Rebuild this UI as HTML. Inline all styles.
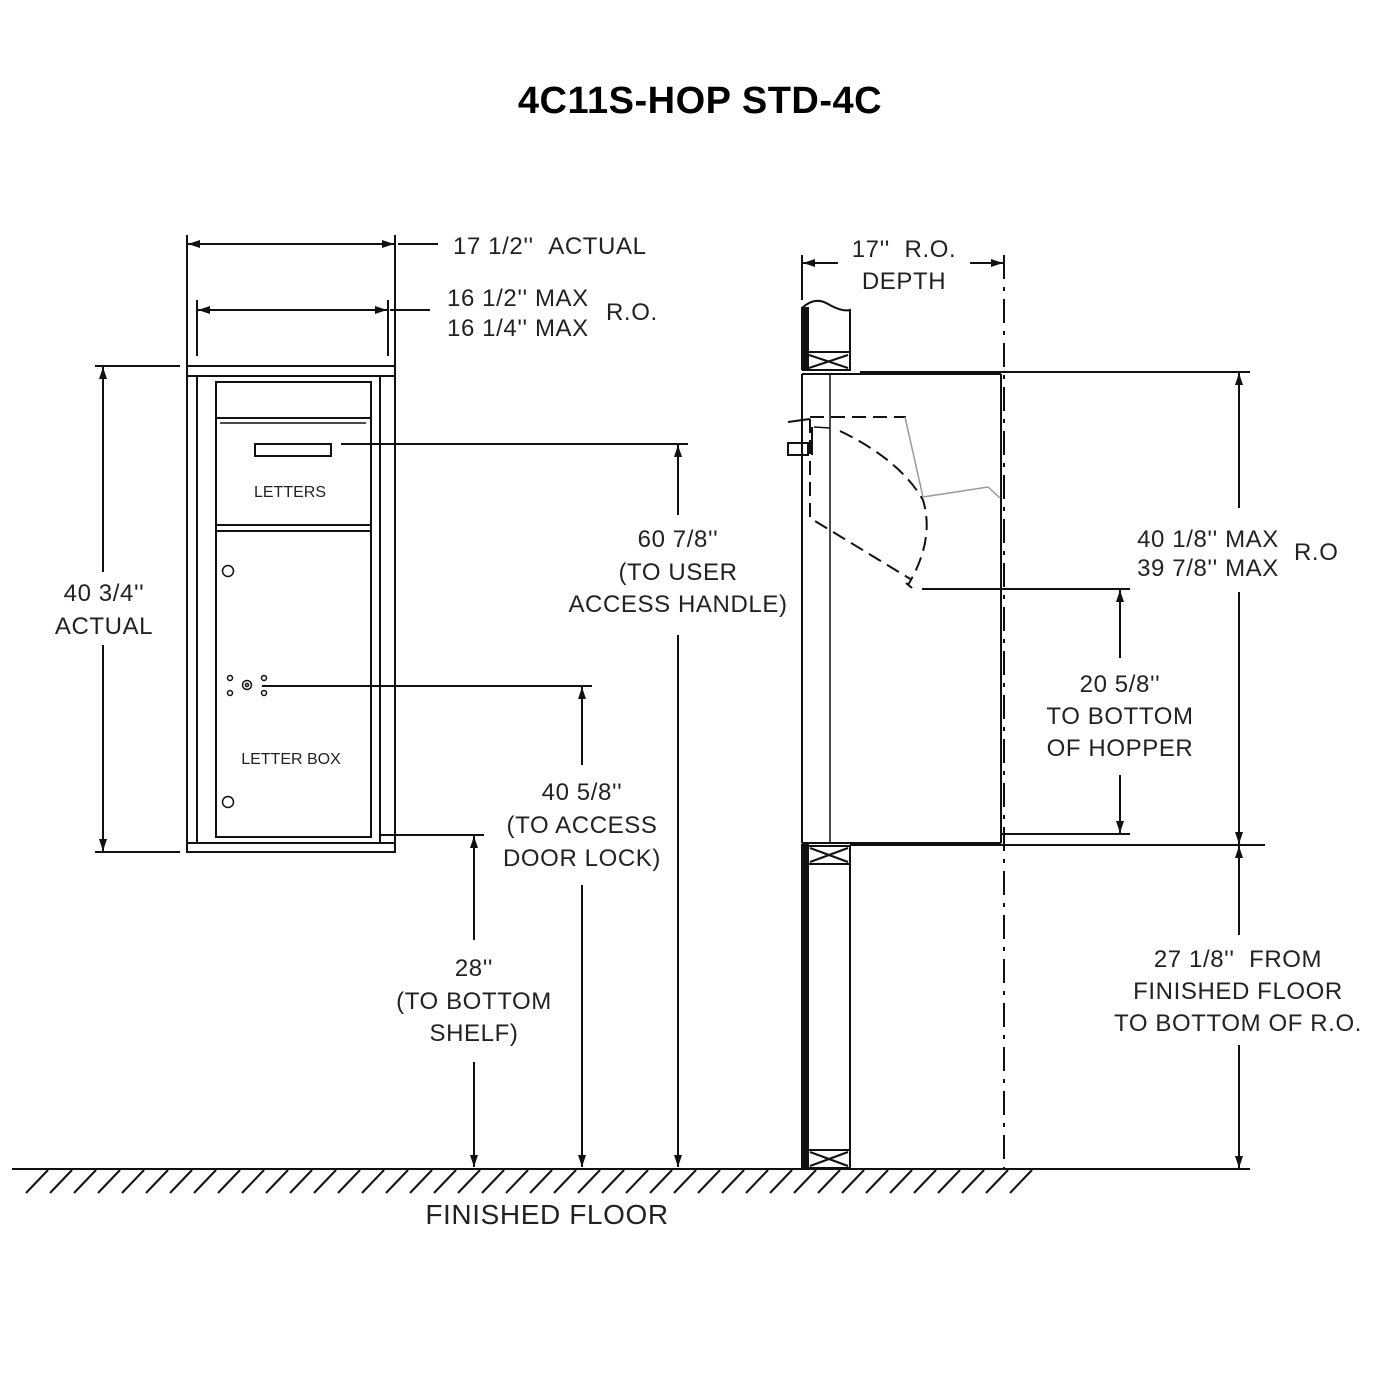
<!DOCTYPE html>
<html><head><meta charset="utf-8"><style>
html,body{margin:0;padding:0;background:#fff}
svg{display:block}
text{font-family:"Liberation Sans",sans-serif;fill:#222}
</style></head><body>
<svg width="1400" height="1400" viewBox="0 0 1400 1400" xmlns="http://www.w3.org/2000/svg">
<defs>
<marker id="a" viewBox="0 0 12 8" refX="12" refY="4" markerWidth="12" markerHeight="8" orient="auto-start-reverse" markerUnits="userSpaceOnUse"><path d="M0,0 L12,4 L0,8 z" fill="#111"/></marker>
</defs>
<text x="700" y="113" text-anchor="middle" style="font-weight:bold;font-size:38px;fill:#000;letter-spacing:0.5px">4C11S-HOP STD-4C</text>

<g stroke="#111" fill="none" stroke-width="2">
<rect x="187" y="366" width="208" height="486"/>
<line x1="187" y1="376" x2="395" y2="376"/>
<line x1="197" y1="376" x2="197" y2="843"/>
<line x1="380" y1="376" x2="380" y2="843"/>
<line x1="187" y1="843" x2="395" y2="843"/>
<rect x="216" y="382" width="155" height="455"/>
<line x1="216" y1="418" x2="371" y2="418"/>
<line x1="220" y1="423" x2="366" y2="423" stroke-width="1.5"/>
<rect x="255" y="444" width="76" height="12"/>
<line x1="216" y1="525" x2="371" y2="525"/>
<line x1="216" y1="531" x2="371" y2="531"/>
<circle cx="228" cy="571" r="5.5" stroke-width="1.5"/>
<circle cx="228" cy="802" r="5.5" stroke-width="1.5"/>
<circle cx="230" cy="678" r="2.5" stroke-width="1.5"/>
<circle cx="230" cy="693" r="2.5" stroke-width="1.5"/>
<circle cx="264" cy="678" r="2.5" stroke-width="1.5"/>
<circle cx="264" cy="693" r="2.5" stroke-width="1.5"/>
<circle cx="247" cy="685" r="4.5" stroke-width="1.5"/>
<circle cx="247" cy="685" r="1.5" stroke-width="1.5"/>
<line x1="187" y1="235" x2="187" y2="512"/>
<line x1="395" y1="235" x2="395" y2="512"/>
<line x1="188" y1="244" x2="394" y2="244" marker-start="url(#a)" marker-end="url(#a)"/>
<line x1="398" y1="244" x2="438" y2="244"/>
<line x1="197" y1="300" x2="197" y2="356"/>
<line x1="388" y1="300" x2="388" y2="356"/>
<line x1="198" y1="310" x2="387" y2="310" marker-start="url(#a)" marker-end="url(#a)"/>
<line x1="390" y1="310" x2="430" y2="310"/>
<line x1="95" y1="366" x2="180" y2="366"/>
<line x1="95" y1="852" x2="180" y2="852"/>
<line x1="103" y1="367" x2="103" y2="572" marker-start="url(#a)"/>
<line x1="103" y1="645" x2="103" y2="851" marker-end="url(#a)"/>
<line x1="341" y1="444" x2="688" y2="444"/>
<line x1="678" y1="445" x2="678" y2="515" marker-start="url(#a)"/>
<line x1="678" y1="635" x2="678" y2="1167" marker-end="url(#a)"/>
<line x1="262" y1="686" x2="592" y2="686"/>
<line x1="582" y1="687" x2="582" y2="765" marker-start="url(#a)"/>
<line x1="582" y1="885" x2="582" y2="1167" marker-end="url(#a)"/>
<line x1="380" y1="835" x2="484" y2="835"/>
<line x1="474" y1="836" x2="474" y2="940" marker-start="url(#a)"/>
<line x1="474" y1="1062" x2="474" y2="1167" marker-end="url(#a)"/>
<line x1="12" y1="1169" x2="1050" y2="1169"/>
</g>
<g stroke="#111" stroke-width="2">
<line x1="48" y1="1170" x2="26" y2="1193"/><line x1="72" y1="1170" x2="50" y2="1193"/><line x1="96" y1="1170" x2="74" y2="1193"/><line x1="120" y1="1170" x2="98" y2="1193"/><line x1="144" y1="1170" x2="122" y2="1193"/><line x1="168" y1="1170" x2="146" y2="1193"/><line x1="192" y1="1170" x2="170" y2="1193"/><line x1="216" y1="1170" x2="194" y2="1193"/><line x1="240" y1="1170" x2="218" y2="1193"/><line x1="264" y1="1170" x2="242" y2="1193"/><line x1="288" y1="1170" x2="266" y2="1193"/><line x1="312" y1="1170" x2="290" y2="1193"/><line x1="336" y1="1170" x2="314" y2="1193"/><line x1="360" y1="1170" x2="338" y2="1193"/><line x1="384" y1="1170" x2="362" y2="1193"/><line x1="408" y1="1170" x2="386" y2="1193"/><line x1="432" y1="1170" x2="410" y2="1193"/><line x1="456" y1="1170" x2="434" y2="1193"/><line x1="480" y1="1170" x2="458" y2="1193"/><line x1="504" y1="1170" x2="482" y2="1193"/><line x1="528" y1="1170" x2="506" y2="1193"/><line x1="552" y1="1170" x2="530" y2="1193"/><line x1="576" y1="1170" x2="554" y2="1193"/><line x1="600" y1="1170" x2="578" y2="1193"/><line x1="624" y1="1170" x2="602" y2="1193"/><line x1="648" y1="1170" x2="626" y2="1193"/><line x1="672" y1="1170" x2="650" y2="1193"/><line x1="696" y1="1170" x2="674" y2="1193"/><line x1="720" y1="1170" x2="698" y2="1193"/><line x1="744" y1="1170" x2="722" y2="1193"/><line x1="768" y1="1170" x2="746" y2="1193"/><line x1="792" y1="1170" x2="770" y2="1193"/><line x1="816" y1="1170" x2="794" y2="1193"/><line x1="840" y1="1170" x2="818" y2="1193"/><line x1="864" y1="1170" x2="842" y2="1193"/><line x1="888" y1="1170" x2="866" y2="1193"/><line x1="912" y1="1170" x2="890" y2="1193"/><line x1="936" y1="1170" x2="914" y2="1193"/><line x1="960" y1="1170" x2="938" y2="1193"/><line x1="984" y1="1170" x2="962" y2="1193"/><line x1="1008" y1="1170" x2="986" y2="1193"/><line x1="1032" y1="1170" x2="1010" y2="1193"/>
</g>

<g stroke="#111" fill="none" stroke-width="2">
<rect x="802" y="308" width="6" height="61" fill="#111"/>
<rect x="802" y="845" width="6" height="324" fill="#111"/>
<path d="M802,308 Q815,296 828,304 Q842,312 850,310 L850,370 L802,370"/>
<line x1="809" y1="352" x2="850" y2="352"/>
<path d="M809,355 L848,368 M848,355 L809,368"/>
<rect x="808" y="846" width="42" height="322"/>
<line x1="808" y1="864" x2="850" y2="864"/>
<path d="M810,848 L848,862 M848,848 L810,862"/>
<line x1="808" y1="1150" x2="850" y2="1150"/>
<path d="M810,1152 L848,1166 M848,1152 L810,1166"/>
<line x1="802" y1="374" x2="1001" y2="374"/>
<line x1="1001" y1="374" x2="1001" y2="843"/>
<line x1="802" y1="843" x2="1001" y2="843"/>
<line x1="802" y1="374" x2="802" y2="843"/>
<line x1="830" y1="374" x2="830" y2="843" stroke-width="1.5"/>
<path d="M810,417 L906,417" stroke-dasharray="14,7"/>
<path d="M810,419 L810,518 L912,580" stroke-dasharray="14,7"/>
<path d="M840,431 Q900,460 923,500 Q935,540 908,585" stroke-dasharray="14,7"/>
<line x1="906" y1="583" x2="912" y2="588"/>
<line x1="788" y1="422" x2="810" y2="419"/>
<rect x="788" y="443" width="20" height="12"/>
<line x1="812" y1="427" x2="812" y2="455"/>
<line x1="814" y1="427" x2="830" y2="428" stroke-width="1.5"/>
<path d="M905,417 L923,497 L988,487 L1000,498" stroke="#999" stroke-width="1.5"/>
<line x1="1004" y1="255" x2="1004" y2="1169" stroke-dasharray="24,8,4,8"/>
<line x1="802" y1="255" x2="802" y2="300"/>
<line x1="803" y1="263" x2="838" y2="263" marker-start="url(#a)"/>
<line x1="970" y1="263" x2="1003" y2="263" marker-end="url(#a)"/>
<line x1="860" y1="372" x2="1250" y2="372"/>
<line x1="850" y1="845" x2="1265" y2="845"/>
<line x1="1004" y1="1169" x2="1250" y2="1169"/>
<line x1="1239" y1="373" x2="1239" y2="508" marker-start="url(#a)"/>
<line x1="1239" y1="592" x2="1239" y2="844" marker-end="url(#a)"/>
<line x1="1239" y1="846" x2="1239" y2="935" marker-start="url(#a)"/>
<line x1="1239" y1="1045" x2="1239" y2="1168" marker-end="url(#a)"/>
<line x1="922" y1="589" x2="1130" y2="589"/>
<line x1="1000" y1="834" x2="1130" y2="834"/>
<line x1="1120" y1="590" x2="1120" y2="658" marker-start="url(#a)"/>
<line x1="1120" y1="775" x2="1120" y2="833" marker-end="url(#a)"/>
</g>

<g style="font-size:24px;letter-spacing:0.6px">
<text x="453" y="254">17 1/2''&#160;&#160;ACTUAL</text>
<text x="447" y="306">16 1/2'' MAX</text>
<text x="447" y="336">16 1/4'' MAX</text>
<text x="606" y="320">R.O.</text>
<text x="104" y="601" text-anchor="middle">40 3/4''</text>
<text x="104" y="634" text-anchor="middle">ACTUAL</text>
<text x="678" y="547" text-anchor="middle">60 7/8''</text>
<text x="678" y="580" text-anchor="middle">(TO USER</text>
<text x="678" y="612" text-anchor="middle">ACCESS HANDLE)</text>
<text x="582" y="800" text-anchor="middle">40 5/8''</text>
<text x="582" y="833" text-anchor="middle">(TO ACCESS</text>
<text x="582" y="866" text-anchor="middle">DOOR LOCK)</text>
<text x="474" y="976" text-anchor="middle">28''</text>
<text x="474" y="1009" text-anchor="middle">(TO BOTTOM</text>
<text x="474" y="1041" text-anchor="middle">SHELF)</text>
<text x="547" y="1224" text-anchor="middle" style="font-size:28px">FINISHED FLOOR</text>
<text x="904" y="257" text-anchor="middle">17''&#160;&#160;R.O.</text>
<text x="904" y="289" text-anchor="middle">DEPTH</text>
<text x="1208" y="547" text-anchor="middle">40 1/8'' MAX</text>
<text x="1208" y="576" text-anchor="middle">39 7/8'' MAX</text>
<text x="1294" y="560">R.O</text>
<text x="1120" y="692" text-anchor="middle">20 5/8''</text>
<text x="1120" y="724" text-anchor="middle">TO BOTTOM</text>
<text x="1120" y="756" text-anchor="middle">OF HOPPER</text>
<text x="1238" y="967" text-anchor="middle">27 1/8''&#160;&#160;FROM</text>
<text x="1238" y="999" text-anchor="middle">FINISHED FLOOR</text>
<text x="1238" y="1031" text-anchor="middle">TO BOTTOM OF R.O.</text>
</g>
<g style="font-size:16px">
<text x="290" y="497" text-anchor="middle">LETTERS</text>
<text x="291" y="764" text-anchor="middle">LETTER BOX</text>
</g>
</svg>
</body></html>
